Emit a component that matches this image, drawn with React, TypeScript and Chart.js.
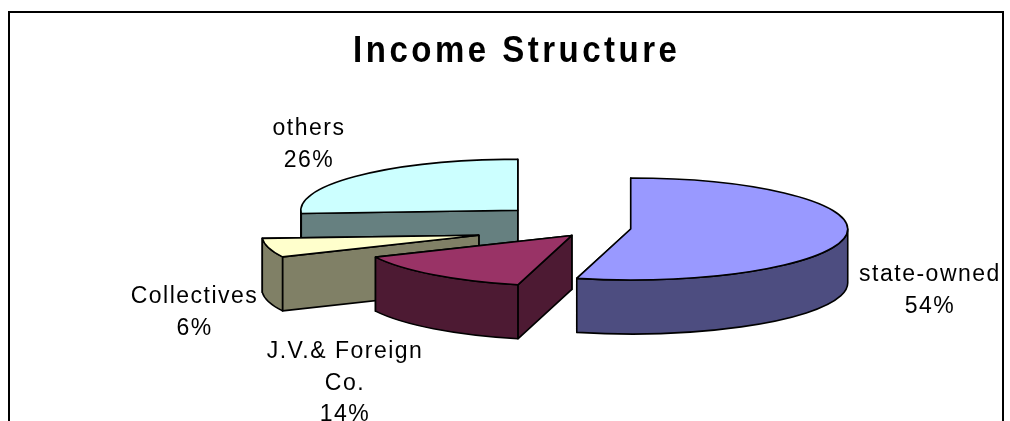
import React, { useEffect, useRef } from "react";
import { Chart, registerables } from "chart.js";

Chart.register(...registerables);

const titleText = "Income Structure";
const categories = [["state-owned"], ["J.V.& Foreign", "Co."], ["Collectives"], ["others"]];
const shares = [54, 14, 6, 26];
const topColors = ["#9999FF", "#993366", "#FFFFCC", "#CCFFFF"];
const sideColors = ["#4D4D80", "#4D1A33", "#808066", "#668080"];
const explode = [33, 41, 123, 110];
const paintOrder = [3, 2, 1, 0];
const labelAnchors = [
  { x: 929, y: 281 },
  { x: 344, y: 358 },
  { x: 193.5, y: 303 },
  { x: 308, y: 135 },
];

const W = 1010;
const H = 421;
const TILT = 0.235;
const DEPTH = 54;
const FONT = '"Liberation Sans", Arial, sans-serif';

const pie3d = {
  id: "pie3d",
  beforeDraw(chart: any) {
    const { ctx } = chart;
    ctx.save();
    ctx.fillStyle = "#ffffff";
    ctx.fillRect(0, 0, W, H);
    ctx.strokeStyle = "#000000";
    ctx.lineWidth = 2;
    ctx.beginPath();
    ctx.moveTo(9, H + 5);
    ctx.lineTo(9, 12);
    ctx.lineTo(1003, 12);
    ctx.lineTo(1003, H + 5);
    ctx.stroke();
    ctx.fillStyle = "#000000";
    ctx.font = `bold 33px ${FONT}`;
    ctx.textAlign = "center";
    ctx.textBaseline = "alphabetic";
    (ctx as any).letterSpacing = "3.5px";
    ctx.translate(516.75, 62);
    ctx.scale(1, 1.145);
    ctx.fillText(titleText, 0, 0);
    (ctx as any).letterSpacing = "0px";
    ctx.restore();
  },
  beforeDatasetDraw(chart: any, args: any) {
    const { ctx } = chart;
    const arcs = args.meta.data;
    ctx.save();
    ctx.lineJoin = "round";
    ctx.strokeStyle = "#000000";
    ctx.lineWidth = 1.6;
    for (const i of paintOrder) {
      const a = arcs[i];
      const { x, y, startAngle, endAngle, outerRadius: r } = a.getProps(
        ["x", "y", "startAngle", "endAngle", "outerRadius"],
        true,
      );
      const off = a.options.offset;
      const mid = (startAngle + endAngle) / 2;
      const cx = x + Math.cos(mid) * off;
      const cy = y + Math.sin(mid) * off * TILT;
      const px = (t: number) => cx + r * Math.cos(t);
      const py = (t: number) => cy + r * TILT * Math.sin(t);

      const face = (t: number) => {
        ctx.beginPath();
        ctx.moveTo(cx, cy);
        ctx.lineTo(px(t), py(t));
        ctx.lineTo(px(t), py(t) + DEPTH);
        ctx.lineTo(cx, cy + DEPTH);
        ctx.closePath();
        ctx.fillStyle = sideColors[i];
        ctx.fill();
        ctx.stroke();
      };
      // the cut face nearer the viewer goes on top of the farther one
      [startAngle, endAngle].sort((p: number, q: number) => py(p) - py(q)).forEach(face);

      // curved outer wall: only the part whose rim faces the viewer
      const norm = (t: number) => {
        let v = t;
        while (v < 0) v += Math.PI * 2;
        while (v >= Math.PI * 2) v -= Math.PI * 2;
        return v;
      };
      const spans: [number, number][] = [];
      const s = norm(startAngle);
      const e = s + (endAngle - startAngle);
      for (const [lo, hi] of [[0, Math.PI], [Math.PI * 2, Math.PI * 3]]) {
        const a0 = Math.max(s, lo);
        const a1 = Math.min(e, hi);
        if (a1 > a0) spans.push([a0, a1]);
      }
      for (const [a0, a1] of spans) {
        ctx.beginPath();
        ctx.ellipse(cx, cy, r, r * TILT, 0, a0, a1, false);
        ctx.lineTo(px(a1), py(a1) + DEPTH);
        ctx.ellipse(cx, cy + DEPTH, r, r * TILT, 0, a1, a0, true);
        ctx.closePath();
        ctx.fillStyle = sideColors[i];
        ctx.fill();
        ctx.stroke();
      }

      ctx.beginPath();
      ctx.moveTo(cx, cy);
      ctx.ellipse(cx, cy, r, r * TILT, 0, startAngle, endAngle, false);
      ctx.closePath();
      ctx.fillStyle = topColors[i];
      ctx.fill();
      ctx.stroke();
    }
    ctx.restore();
    return false;
  },
  afterDraw(chart: any) {
    const { ctx } = chart;
    const labels = chart.data.labels;
    const values = chart.data.datasets[0].data;
    ctx.save();
    ctx.fillStyle = "#000000";
    ctx.font = `23px ${FONT}`;
    ctx.textAlign = "center";
    ctx.textBaseline = "alphabetic";
    (ctx as any).letterSpacing = "1.5px";
    labels.forEach((lines: string[], i: number) => {
      const all = [...lines, `${values[i]}%`];
      all.forEach((line, k) => {
        ctx.fillText(line, labelAnchors[i].x + 1, labelAnchors[i].y + k * 31.5);
      });
    });
    ctx.restore();
  },
};

export default function App() {
  const ref = useRef<HTMLCanvasElement>(null);
  useEffect(() => {
    const chart = new Chart(ref.current as HTMLCanvasElement, {
      type: "pie",
      data: {
        labels: categories as any,
        datasets: [
          {
            data: shares,
            backgroundColor: topColors,
            offset: explode,
            borderColor: "#000000",
            borderWidth: 1,
          } as any,
        ],
      },
      options: {
        responsive: false,
        animation: false,
        radius: 217,
        layout: { padding: { left: 186, top: 35 } },
        plugins: { legend: { display: false }, tooltip: { enabled: false }, title: { display: false } },
      } as any,
      plugins: [pie3d],
    });
    return () => chart.destroy();
  }, []);
  return (
    <div style={{ position: "absolute", left: 0, top: 0, width: W, height: H, overflow: "hidden" }}>
      <canvas ref={ref} width={W} height={H} style={{ display: "block" }} />
    </div>
  );
}
